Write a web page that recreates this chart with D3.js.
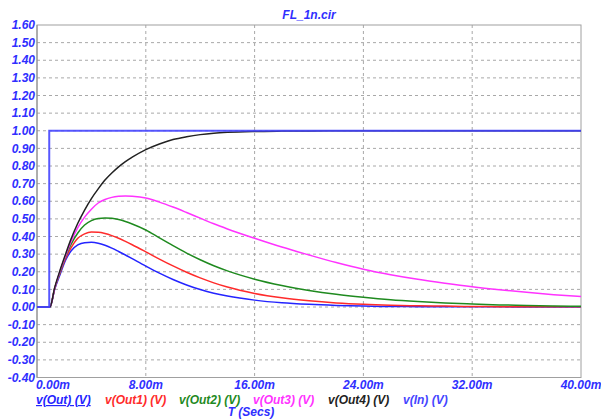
<!DOCTYPE html>
<head>
<meta charset="utf-8">
<script src="https://cdn.jsdelivr.net/npm/d3@7"></script>
<style>
    body{margin:0;background:#fff;}
    text{font-family:"Liberation Sans",Arial,sans-serif;font-weight:bold;font-style:italic;font-size:12px;}
</style>
</head>
<body>
<div id="container"></div>
<script>
    // time axis of the output traces, in ms
    var tMs   = [0, 0.95, 1.3, 1.7, 2.1, 2.5, 3.0, 3.5, 4.0, 4.5, 5.0, 5.5, 6.0, 6.5, 7.0, 8.0, 9.0, 10.0, 11.0, 12.0, 13.0, 14.0, 16.0, 18.0, 20.0, 22.0, 24.0, 26.0, 28.0, 30.0, 32.0, 34.0, 36.0, 38.0, 40.0];
    var vOut  = [0, 0, 0.10, 0.185, 0.265, 0.318, 0.352, 0.365, 0.367, 0.362, 0.35, 0.334, 0.315, 0.295, 0.274, 0.232, 0.192, 0.156, 0.125, 0.099, 0.078, 0.062, 0.039, 0.024, 0.015, 0.009, 0.005, 0.003, 0.002, 0.001, 0.001, 0.001, 0, 0, 0];
    var vOut1 = [0, 0, 0.105, 0.195, 0.275, 0.335, 0.39, 0.415, 0.425, 0.424, 0.417, 0.405, 0.39, 0.372, 0.353, 0.313, 0.272, 0.233, 0.197, 0.165, 0.137, 0.113, 0.077, 0.052, 0.035, 0.023, 0.015, 0.01, 0.007, 0.005, 0.003, 0.002, 0.001, 0.001, 0.001];
    var vOut2 = [0, 0, 0.105, 0.2, 0.285, 0.355, 0.42, 0.465, 0.49, 0.502, 0.505, 0.503, 0.496, 0.485, 0.471, 0.437, 0.392, 0.348, 0.306, 0.268, 0.234, 0.205, 0.158, 0.122, 0.094, 0.072, 0.055, 0.041, 0.031, 0.023, 0.017, 0.012, 0.009, 0.006, 0.004];
    var vOut3 = [0, 0, 0.105, 0.205, 0.29, 0.37, 0.45, 0.51, 0.555, 0.59, 0.61, 0.622, 0.628, 0.63, 0.628, 0.618, 0.595, 0.567, 0.536, 0.504, 0.472, 0.443, 0.39, 0.34, 0.295, 0.252, 0.214, 0.183, 0.157, 0.135, 0.115, 0.098, 0.083, 0.07, 0.059];
    var vOut4 = [0, 0, 0.11, 0.21, 0.30, 0.385, 0.475, 0.55, 0.615, 0.67, 0.72, 0.76, 0.795, 0.825, 0.85, 0.893, 0.925, 0.95, 0.966, 0.978, 0.986, 0.991, 0.996, 0.998, 0.999, 1.0, 1.0, 1.0, 1.0, 1.0, 1.0, 1.0, 1.0, 1.0, 1.0];
    // input step
    var tIn = [0, 0.9, 0.9, 40];
    var vIn = [0, 0, 1, 1];

    var yTicks = [1.6, 1.5, 1.4, 1.3, 1.2, 1.1, 1.0, 0.9, 0.8, 0.7, 0.6, 0.5, 0.4, 0.3, 0.2, 0.1, 0.0, -0.1, -0.2, -0.3, -0.4];
    var xTicks = [0, 8, 16, 24, 32, 40];
    var legendNames  = ['v(Out) (V)', 'v(Out1) (V)', 'v(Out2) (V)', 'v(Out3) (V)', 'v(Out4) (V)', 'v(In) (V)'];
    var legendColors = ['#2424ff', '#ff2b2b', '#1f8a1f', '#ff33ff', '#222222', '#4545ff'];
    var legendX      = [36, 105, 179, 253, 328, 403];

    var W = 601, H = 419;
    var L = 37, R = 581, T = 25, B = 377.5;
    var blueText = '#2f2fff';

    var svg = d3.select('#container').append('svg').attr('width', W).attr('height', H);
    var x = d3.scaleLinear().domain([0, 40]).range([L, R]);
    var y = d3.scaleLinear().domain([-0.4, 1.6]).range([B, T]);

    svg.append('defs').append('clipPath').attr('id', 'plot')
        .append('rect').attr('x', L).attr('y', T).attr('width', R - L).attr('height', B - T);

    // grid
    var grid = svg.append('g');
    grid.selectAll('line.h').data(yTicks.slice(1, -1)).enter().append('line')
        .attr('x1', L).attr('x2', R).attr('y1', d => y(d)).attr('y2', d => y(d))
        .attr('stroke', '#a8a8a8').attr('stroke-dasharray', '3,3');
    grid.selectAll('line.v').data(xTicks.slice(1, -1)).enter().append('line')
        .attr('y1', T).attr('y2', B).attr('x1', d => x(d)).attr('x2', d => x(d))
        .attr('stroke', '#a8a8a8').attr('stroke-dasharray', '3,3');
    svg.append('rect').attr('x', L).attr('y', T).attr('width', R - L).attr('height', B - T)
        .attr('fill', 'none').attr('stroke', '#a0a0a0');
    svg.append('line').attr('x1', L).attr('x2', L).attr('y1', T).attr('y2', B).attr('stroke', '#8c8c8c');

    // y labels
    svg.append('g').selectAll('text').data(yTicks).enter().append('text')
        .attr('x', L - 2).attr('y', d => y(d)).attr('dy', '0.35em')
        .attr('text-anchor', 'end').attr('fill', blueText)
        .text(d => d.toFixed(2));

    // x labels
    svg.append('g').selectAll('text').data(xTicks).enter().append('text')
        .attr('x', (d, i) => i == 0 ? L - 1 : x(d)).attr('y', 389)
        .attr('text-anchor', (d, i) => i == 0 ? 'start' : 'middle').attr('fill', blueText)
        .text(d => d.toFixed(2) + 'm');

    // title
    svg.append('text').attr('x', (L + R) / 2).attr('y', 19).attr('text-anchor', 'middle')
        .attr('fill', blueText).text('FL_1n.cir');

    // traces
    var series = [vOut, vOut1, vOut2, vOut3, vOut4];
    var line = d3.line().x(d => x(d[0])).y(d => y(d[1])).curve(d3.curveMonotoneX);
    var traces = svg.append('g').attr('clip-path', 'url(#plot)');
    series.forEach(function(s, i){
        traces.append('path').datum(tMs.map((t, k) => [t, s[k]]))
            .attr('d', line).attr('fill', 'none')
            .attr('stroke', legendColors[i]).attr('stroke-width', 1.5);
    });
    var stepLine = d3.line().x(d => x(d[0])).y(d => y(d[1]));
    traces.append('path').datum(tIn.map((t, k) => [t, vIn[k]]))
        .attr('d', stepLine).attr('fill', 'none')
        .attr('stroke', legendColors[5]).attr('stroke-width', 2).attr('opacity', 0.9);

    // legend
    var lg = svg.append('g');
    legendNames.forEach(function(n, i){
        lg.append('text').attr('x', legendX[i]).attr('y', 404).attr('fill', legendColors[i])
            .attr('text-decoration', i == 0 ? 'underline' : null).text(n);
    });
    svg.append('text').attr('x', 251).attr('y', 416).attr('text-anchor', 'middle')
        .attr('fill', blueText).text('T (Secs)');
</script>
</body>
